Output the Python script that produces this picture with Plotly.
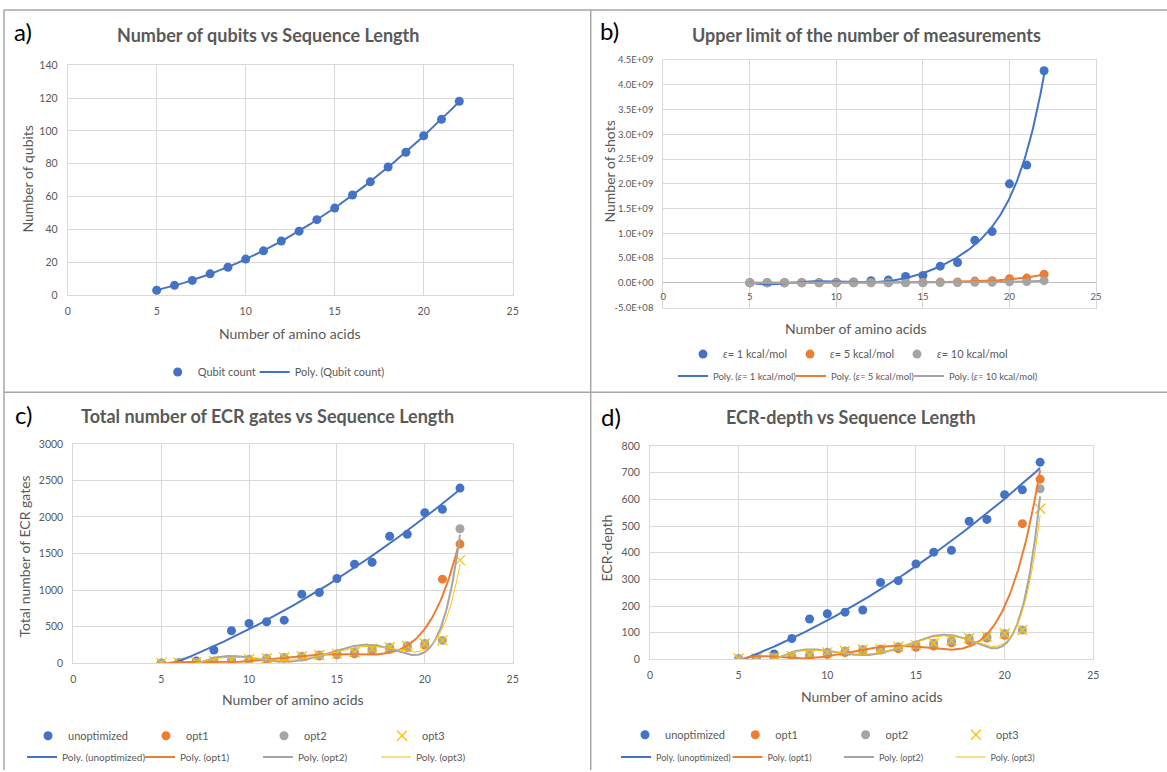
import numpy as np
import plotly.graph_objects as go

W, H = 1167, 772

# ---------------- data ----------------
n_amino = [5, 6, 7, 8, 9, 10, 11, 12, 13, 14, 15, 16, 17, 18, 19, 20, 21, 22]

qubits = [3, 6, 9, 13, 17, 22, 27, 33, 39, 46, 53, 61, 69, 78, 87, 97, 107, 118]

shots_e1 = [1.0e5, 3.0e5, 8.0e5, 2.0e6, 4.0e6, 8.0e6, 1.5e7, 4.0e7, 5.4e7, 1.28e8,
            1.48e8, 3.36e8, 4.1e8, 8.6e8, 1.034e9, 2.0e9, 2.378e9, 4.285e9]
shots_e5 = [4e3, 1.2e4, 3.2e4, 8e4, 1.6e5, 3.2e5, 6e5, 1.6e6, 2.2e6, 5.1e6,
            5.9e6, 1.34e7, 1.64e7, 3.44e7, 4.14e7, 8.0e7, 9.5e7, 1.71e8]
shots_e10 = [1e3, 3e3, 8e3, 2e4, 4e4, 8e4, 1.5e5, 4e5, 5.4e5, 1.28e6,
             1.48e6, 3.36e6, 4.1e6, 8.6e6, 1.03e7, 2.0e7, 2.38e7, 4.29e7]

ecr_unopt = [0, 5, 30, 182, 445, 545, 568, 590, 945, 968, 1159, 1355, 1382, 1736, 1764, 2059, 2105, 2395]
ecr_opt1 = [0, 2, 8, 20, 30, 40, 55, 70, 85, 100, 115, 130, 175, 195, 215, 250, 1150, 1630]
ecr_opt2 = [5, 10, 14, 32, 45, 54, 68, 80, 95, 113, 132, 150, 200, 220, 240, 270, 313, 1840]
ecr_opt3 = [5, 10, 14, 32, 45, 54, 68, 80, 95, 113, 132, 150, 200, 220, 240, 270, 313, 1410]

depth_unopt = [0, 5, 20, 78, 151, 171, 177, 185, 288, 295, 358, 402, 409, 518, 525, 618, 636, 740]
depth_opt1 = [0, 2, 5, 8, 12, 18, 25, 30, 35, 40, 45, 50, 62, 70, 80, 90, 509, 676]
depth_opt2 = [3, 4, 9, 12, 16, 26, 31, 37, 39, 47, 54, 60, 70, 79, 85, 97, 110, 640]
depth_opt3 = [3, 4, 9, 12, 16, 26, 31, 37, 39, 47, 54, 60, 70, 79, 85, 97, 110, 565]

shots_tickvals = [-5e8, 0, 5e8, 1e9, 1.5e9, 2e9, 2.5e9, 3e9, 3.5e9, 4e9, 4.5e9]
shots_ticktext = ["-5.0E+08", "0.0E+00", "5.0E+08", "1.0E+09", "1.5E+09", "2.0E+09",
                  "2.5E+09", "3.0E+09", "3.5E+09", "4.0E+09", "4.5E+09"]

BLUE, ORANGE, GRAY, YELLOW = "#4472C4", "#ED7D31", "#A5A5A5", "#FFC000"
TXT = "#595959"
GRID = "#D9D9D9"
FONT = "Lato"


def px(x):
    return x / W


def py(y):
    return 1 - y / H


def trend(xs, ys, deg):
    coef = np.polyfit(np.array(xs, float), np.array(ys, float), deg)
    xx = np.linspace(min(xs), max(xs), 300)
    return xx, np.polyval(coef, xx)


fig = go.Figure()


def pts(xs, ys, name, color, xa, ya, legend, symbol="circle", lw=None):
    if symbol == "circle":
        mk = dict(symbol="circle", size=9, color=color)
    else:
        mk = dict(symbol="x-thin", size=10, color=color, line=dict(color=color, width=1.3))
    fig.add_trace(go.Scatter(x=xs, y=ys, mode="markers", name=name, marker=mk,
                             xaxis=xa, yaxis=ya, legend=legend, legendwidth=lw))


def poly(xs, ys, deg, name, color, xa, ya, legend, width=2, lw=None):
    xx, yy = trend(xs, ys, deg)
    fig.add_trace(go.Scatter(x=xx, y=yy, mode="lines", name=name,
                             line=dict(color=color, width=width),
                             xaxis=xa, yaxis=ya, legend=legend, legendwidth=lw))


# a)
pts(n_amino, qubits, "Qubit count", BLUE, "x", "y", "legend")
poly(n_amino, qubits, 2, "Poly. (Qubit count)", BLUE, "x", "y", "legend", lw=110)

# b)
eps_names = ["<i>ε</i>= 1 kcal/mol", "<i>ε</i>= 5 kcal/mol", "<i>ε</i>= 10 kcal/mol"]
eps_cols = [BLUE, ORANGE, GRAY]
for i, (ys, nm, c) in enumerate(zip([shots_e1, shots_e5, shots_e10], eps_names, eps_cols)):
    pts(n_amino, ys, nm, c, "x2", "y2", "legend2", lw=100 if i == 2 else None)
for i, (ys, nm, c) in enumerate(zip([shots_e1, shots_e5, shots_e10], eps_names, eps_cols)):
    poly(n_amino, ys, 6, "Poly. (" + nm + ")", c, "x2", "y2", "legend3", lw=110 if i == 2 else None)
# carrier for the axis that sits on the zero line of b)
fig.add_trace(go.Scatter(x=n_amino, y=shots_e10, mode="markers", opacity=0,
                         showlegend=False, hoverinfo="skip", xaxis="x5", yaxis="y2"))

# c)
ser_names = ["unoptimized", "opt1", "opt2", "opt3"]
cols = [BLUE, ORANGE, GRAY, YELLOW]
for ys, nm, c in zip([ecr_unopt, ecr_opt1, ecr_opt2, ecr_opt3], ser_names, cols):
    pts(n_amino, ys, nm, c, "x3", "y3", "legend4", "x" if nm == "opt3" else "circle")
for ys, nm, c in zip([ecr_unopt, ecr_opt1, ecr_opt2, ecr_opt3], ser_names, cols):
    poly(n_amino, ys, 2 if nm == "unoptimized" else 6, "Poly. (" + nm + ")", c, "x3", "y3",
         "legend5", 1 if nm == "opt3" else 2)

# d)
for ys, nm, c in zip([depth_unopt, depth_opt1, depth_opt2, depth_opt3], ser_names, cols):
    pts(n_amino, ys, nm, c, "x4", "y4", "legend6", "x" if nm == "opt3" else "circle")
for ys, nm, c in zip([depth_unopt, depth_opt1, depth_opt2, depth_opt3], ser_names, cols):
    poly(n_amino, ys, 2 if nm == "unoptimized" else 6, "Poly. (" + nm + ")", c, "x4", "y4",
         "legend7", 1 if nm == "opt3" else 2)


def xax(dom, anchor, **kw):
    d = dict(domain=dom, anchor=anchor, range=[0, 25], dtick=5, tick0=0,
             showgrid=True, gridcolor=GRID, gridwidth=1, zeroline=False,
             showline=True, linecolor=GRID, mirror=True, automargin=False,
             ticks="outside", ticklen=6, tickcolor="rgba(0,0,0,0)",
             tickfont=dict(family=FONT, size=10.5, color=TXT), fixedrange=True)
    d.update(kw)
    return d


def yax(dom, anchor, rng, dtick, **kw):
    d = dict(domain=dom, anchor=anchor, range=rng, dtick=dtick,
             showgrid=True, gridcolor=GRID, gridwidth=1, zeroline=False,
             showline=True, linecolor=GRID, mirror=True, automargin=False,
             ticks="outside", ticklen=7, tickcolor="rgba(0,0,0,0)",
             tickfont=dict(family=FONT, size=10.5, color=TXT), fixedrange=True)
    d.update(kw)
    return d


def leg(x, y, ew, size=11):
    return dict(orientation="h", x=px(x), y=py(y), xanchor="left", yanchor="middle",
                entrywidth=ew, entrywidthmode="pixels", bgcolor="rgba(0,0,0,0)",
                font=dict(family=FONT, size=size, color=TXT), itemclick=False,
                itemdoubleclick=False, tracegroupgap=0)


b_top, b_bot = 60.3, 308.3
b_zero = b_bot - (b_bot - b_top) * 0.5 / 5.0

fig.update_layout(
    width=W, height=H, autosize=False,
    margin=dict(l=0, r=0, t=0, b=0, pad=0),
    paper_bgcolor="white", plot_bgcolor="white",
    showlegend=True,
    xaxis=xax([px(67.7), px(512.7)], "y"),
    yaxis=yax([py(296), py(65.3)], "x", [0, 140], 20),
    xaxis2=xax([px(663.3), px(1096)], "y2", showticklabels=False, ticks=""),
    xaxis5=xax([px(663.3), px(1096)], "free", overlaying="x2", position=py(b_zero),
               showgrid=False, showline=False, ticklen=5,
               tickfont=dict(family=FONT, size=9.5, color=TXT)),
    yaxis2=yax([py(b_bot), py(b_top)], "x2", [-5e8, 4.5e9], 5e8,
               tickvals=shots_tickvals, ticktext=shots_ticktext,
               zeroline=True, zerolinecolor="#BFBFBF", zerolinewidth=1,
               tickfont=dict(family=FONT, size=9.5, color=TXT)),
    xaxis3=xax([px(73.3), px(512.7)], "y3"),
    yaxis3=yax([py(665), py(445)], "x3", [0, 3000], 500),
    xaxis4=xax([px(650), px(1093.3)], "y4"),
    yaxis4=yax([py(661), py(447.3)], "x4", [0, 800], 100),
    legend=leg(157.7, 373, 52),
    legend2=leg(683, 355, 62),
    legend3=leg(673, 377, 73, 9.5),
    legend4=leg(28, 737.7, 73),
    legend5=leg(22, 759, 73, 10),
    legend6=leg(625, 736.7, 65.3),
    legend7=leg(616, 759, 66.5, 9),
)

anns = []


def ann(text, x, y, size, bold=False, color=TXT, angle=0, family=FONT):
    anns.append(dict(text=("<b>%s</b>" % text) if bold else text, x=px(x), y=py(y),
                     xref="paper", yref="paper", showarrow=False, textangle=angle,
                     xanchor="center", yanchor="middle",
                     font=dict(family=family, size=size, color=color)))


# titles
ann("Number of qubits vs Sequence Length", 267.5, 35, 18, True)
ann("Upper limit of the number of measurements", 866.7, 35, 18, True)
ann("Total number of ECR gates vs Sequence Length", 267.8, 417, 18, True)
ann("ECR-depth vs Sequence Length", 851, 418, 18, True)
# panel letters
ann("a)", 23, 32, 24, color="#000000")
ann("b)", 609, 31, 24, color="#000000")
ann("c)", 23, 416, 24, color="#000000")
ann("d)", 611, 418, 24, color="#000000")
# axis titles
ann("Number of amino acids", 290, 334, 14)
ann("Number of amino acids", 856, 329, 14)
ann("Number of amino acids", 293, 701, 14)
ann("Number of amino acids", 872, 698, 14)
ann("Number of qubits", 28, 180, 14, angle=-90)
ann("Number of shots", 610, 172, 14, angle=-90)
ann("Total number of ECR gates", 25, 558, 14, angle=-90)
ann("ECR-depth", 607, 550, 14, angle=-90)
fig.update_layout(annotations=anns)

# panel borders
BC = "#A6A6A6"
shapes = [
    dict(type="line", xref="paper", yref="paper", x0=px(4), x1=px(4), y0=0, y1=py(10)),
    dict(type="line", xref="paper", yref="paper", x0=px(4), x1=1, y0=py(10), y1=py(10)),
    dict(type="line", xref="paper", yref="paper", x0=px(590.7), x1=px(590.7), y0=0, y1=py(10)),
    dict(type="line", xref="paper", yref="paper", x0=px(4), x1=1, y0=py(393.3), y1=py(393.3)),
]
for s in shapes:
    s["line"] = dict(color=BC, width=1.5)
fig.update_layout(shapes=shapes)

fig.write_html(
    "out.html",
    config={"displayModeBar": False},
    post_script=("document.body.style.margin='0';"
                 "document.body.style.overflow='hidden';"
                 "document.documentElement.style.overflow='hidden';"),
)
